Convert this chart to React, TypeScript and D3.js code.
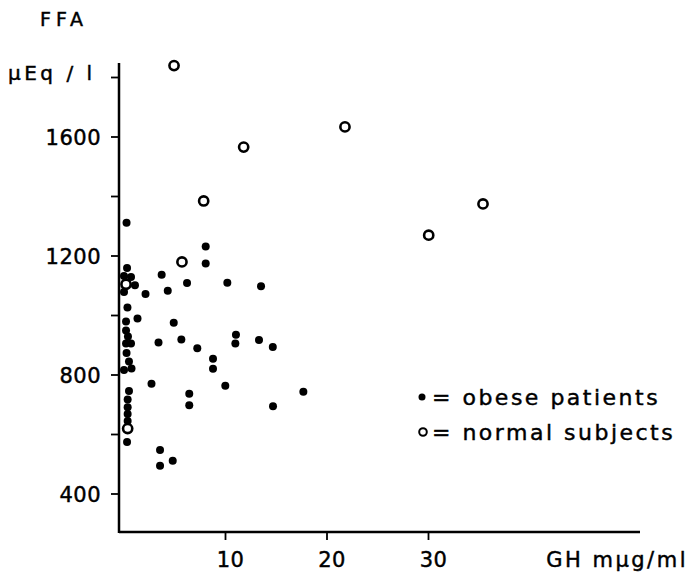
import React from 'react';
import * as d3 from 'd3';

// GH (mµg/ml) and FFA (µEq/l)
const obeseGH = [
  0.25, 0.3, 0, 0.69, 1.08, 0, 0.34, 1.33, 0.2, 0.2, 0.39, 0.69, 0.2, 0.25, 0.49, 0.74, 0,
  0.49, 0.36, 0.36, 0.36, 0.36, 0.3,
  8.05, 8.05, 3.71, 6.21, 10.18, 13.5, 2.12, 4.31, 4.9, 3.4, 5.65, 7.22, 11.03, 10.97, 13.3, 14.66,
  8.77, 8.77, 2.71, 9.98, 6.43, 6.43, 14.68, 17.67, 3.55, 3.55, 4.8,
];
const obeseFFA = [
  1312, 1160, 1133, 1129, 1102, 1079, 1027, 990, 980, 950, 929, 906, 906, 874, 845, 822, 817,
  746, 718, 692, 669, 645, 575,
  1232, 1175, 1137, 1109, 1110, 1098, 1072, 1083, 976, 909, 919, 890, 935, 906, 918, 894,
  855, 821, 771, 764, 737, 698, 695, 744, 548, 495, 512,
];
const normalGH = [4.93, 11.79, 21.77, 7.85, 35.37, 30.02, 5.71, 0.2, 0.36];
const normalFFA = [1840, 1566, 1634, 1385, 1375, 1270, 1180, 1105, 620];

const yTicks = [400, 600, 800, 1000, 1200, 1400, 1600, 1800];
const yLabels = [400, 800, 1200, 1600];
const xTicks = [10, 20, 30];

const font = '"DejaVu Sans", sans-serif';
// slightly heavier glyphs, like the printed figure
const ink = { fill: '#000', stroke: '#000', strokeWidth: 0.45, fontFamily: font };

export default function App() {
  const width = 689;
  const height = 583;
  const x = d3.scaleLinear().domain([0, 10]).range([124, 225.5]);
  const y = d3.scaleLinear().domain([400, 1600]).range([494, 137]);
  const xStart = x.invert(119);
  const xEnd = x.invert(640);
  const yBottom = y.invert(532);
  const yTop = y.invert(63);

  return (
    <svg width={width} height={height} style={{ position: 'absolute', left: 0, top: 0, background: '#fff' }}>
      <text {...ink} x={40} y={26} fontSize={19} letterSpacing={5}>FFA</text>
      <text {...ink} x={8} y={80} fontSize={20} letterSpacing={3.5}>µEq / l</text>
      {/* axes */}
      <line x1={x(xStart)} x2={x(xStart)} y1={y(yTop)} y2={y(yBottom) + 1} stroke="#000" strokeWidth={2.5} />
      <line x1={x(xStart)} x2={x(xEnd)} y1={y(yBottom)} y2={y(yBottom)} stroke="#000" strokeWidth={2.5} />
      {yTicks.map((t) => (
        <line key={t} x1={x(xStart) - 8} x2={x(xStart)} y1={y(t)} y2={y(t)} stroke="#000" strokeWidth={1.8} />
      ))}
      {yLabels.map((t) => (
        <text key={t} {...ink} x={101} y={y(t) + 7.5} textAnchor="end" fontSize={21} letterSpacing={0.5}>{t}</text>
      ))}
      {xTicks.map((t) => (
        <g key={t}>
          <line x1={x(t)} x2={x(t)} y1={y(yBottom)} y2={y(yBottom) + 8} stroke="#000" strokeWidth={1.8} />
          <text {...ink} x={x(t) + 5} y={567} textAnchor="middle" fontSize={21} letterSpacing={0.5}>{t}</text>
        </g>
      ))}
      <text {...ink} x={688} y={567} textAnchor="end" fontSize={21} letterSpacing={2.5}>GH mµg/ml</text>
      {/* points */}
      {obeseGH.map((g, i) => (
        <circle key={'o' + i} cx={x(g)} cy={y(obeseFFA[i])} r={4} fill="#000" />
      ))}
      {normalGH.map((g, i) => (
        <circle key={'n' + i} cx={x(g)} cy={y(normalFFA[i])} r={4.6} fill="#fff" stroke="#000" strokeWidth={2.6} />
      ))}
      {/* legend */}
      <circle cx={422} cy={397} r={3.5} fill="#000" />
      <text {...ink} x={432} y={405} fontSize={22} letterSpacing={2.5}>= obese patients</text>
      <circle cx={423} cy={432} r={3.8} fill="#fff" stroke="#000" strokeWidth={2} />
      <text {...ink} x={432} y={440} fontSize={22} letterSpacing={2.5}>= normal subjects</text>
    </svg>
  );
}
